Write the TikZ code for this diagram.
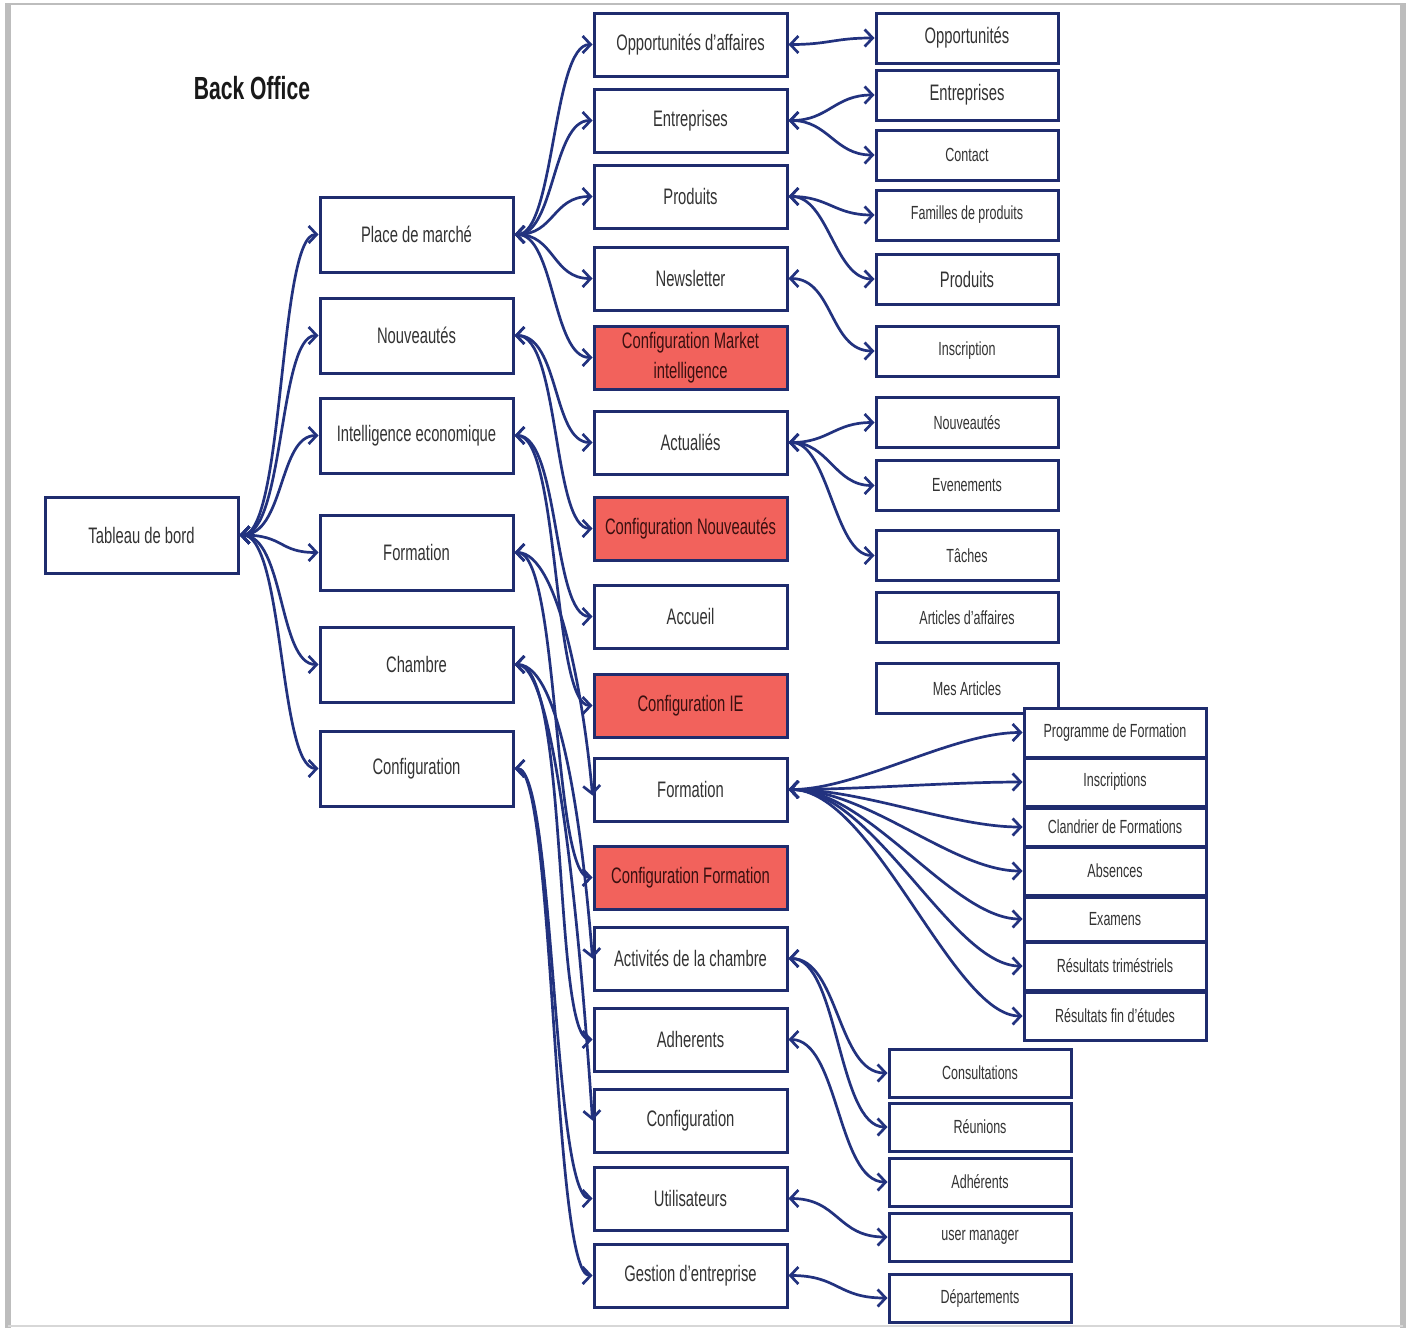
\documentclass[tikz,border=0pt]{standalone}
\usepackage{fontspec}
\setmainfont{Liberation Sans}[FakeStretch=0.66]
\usetikzlibrary{arrows.meta}
\definecolor{navy}{HTML}{1F2C6E}
\definecolor{connc}{HTML}{22327F}
\definecolor{redfill}{HTML}{F2625C}
\definecolor{txt}{HTML}{333333}
\definecolor{redtxt}{HTML}{3A1010}
\definecolor{framec}{HTML}{BDBDBD}
\begin{document}
\begin{tikzpicture}[x=0.5pt,y=-0.5pt,
  box/.style={draw=navy, line width=1.5pt, fill=white, inner sep=0pt, text=txt,
    font=\fontsize{11.2}{13}\selectfont, align=center},
  small/.style={font=\fontsize{9.5}{11}\selectfont},
  hot/.style={fill=redfill, text=redtxt},
  cA/.style={box, minimum width=96.5pt, minimum height=38pt},
  cB/.style={box, minimum width=96.5pt, minimum height=37.5pt},
  cC/.style={box, minimum width=96.5pt, minimum height=31.5pt},
  cD/.style={box, small, minimum width=91pt, minimum height=25pt},
  cE/.style={box, small, minimum width=91pt, minimum height=24pt},
  cF/.style={box, small, minimum width=91pt, minimum height=24pt},
  link/.style={draw=connc, line width=1.35pt,
    {Straight Barb[length=4pt,width=8.5pt]}-{Straight Barb[length=4pt,width=8.5pt]}}
]
\useasboundingbox (0,0) rectangle (1412,1328);
\fill[white] (0,0) rectangle (1412,1328);
% frame
\draw[framec, line width=1pt] (8,4) -- (1403,4);
\draw[framec, line width=3pt] (8,3) -- (8,1328);
\draw[framec, line width=3pt] (1403,3) -- (1403,1328);
\draw[framec!60, line width=1pt] (8,1326) -- (1403,1326);

\node[font=\bfseries\fontsize{16}{19}\selectfont, text=black!90] (title) at (252,88) {Back Office};

% column 1
\node[cA] (tab) at (141.5,535) {Tableau de bord};

% column 2
\node[cB] (pm) at (416.5,234.5) {Place de marché};
\node[cB] (nv) at (416.5,335.5) {Nouveautés};
\node[cB] (ie) at (416.5,435.5) {Intelligence economique};
\node[cB] (fo) at (416.5,552.5) {Formation};
\node[cB] (ch) at (416.5,664.5) {Chambre};
\node[cB] (cf) at (416.5,768.5) {Configuration};

% column 3
\node[cC] (opa) at (690.5,44.5) {Opportunités d'affaires};
\node[cC] (ent) at (690.5,120.5) {Entreprises};
\node[cC] (pro) at (690.5,196.5) {Produits};
\node[cC] (nws) at (690.5,278.5) {Newsletter};
\node[cC,hot,font=\fontsize{11.2}{16}\selectfont] (cmi) at (690.5,357.5) {Configuration Market\\[-1pt]intelligence};
\node[cC] (act) at (690.5,442.5) {Actualiés};
\node[cC,hot] (cnv) at (690.5,528.5) {Configuration Nouveautés};
\node[cC] (acc) at (690.5,616.5) {Accueil};
\node[cC,hot] (cie) at (690.5,705.5) {Configuration IE};
\node[cC] (for) at (690.5,789.5) {Formation};
\node[cC,hot] (cfo) at (690.5,877.5) {Configuration Formation};
\node[cC] (acv) at (690.5,958.5) {Activités de la chambre};
\node[cC] (adh) at (690.5,1039.5) {Adherents};
\node[cC] (cnf) at (690.5,1120.5) {Configuration};
\node[cC] (uti) at (690.5,1198.5) {Utilisateurs};
\node[cC] (ges) at (690.5,1275.5) {Gestion d'entreprise};

% column 4
\node[cD,font=\fontsize{11.2}{13}\selectfont] (d1) at (967,38) {Opportunités};
\node[cD,font=\fontsize{11.2}{13}\selectfont] (d2) at (967,95) {Entreprises};
\node[cD] (d3) at (967,155) {Contact};
\node[cD] (d4) at (967,215) {Familles de produits};
\node[cD,font=\fontsize{11.2}{13}\selectfont] (d5) at (967,279) {Produits};
\node[cD] (d6) at (967,351) {Inscription};
\node[cD] (d7) at (967,422.5) {Nouveautés};
\node[cD] (d8) at (967,485.5) {Evenements};
\node[cD] (d9) at (967,555.5) {Tâches};
\node[cD] (d10) at (967,617.5) {Articles d'affaires};
\node[cD] (d11) at (967,688.5) {Mes Articles};

% column 5
\node[cE, minimum height=24.5pt] (e1) at (1115,732.5) {Programme de Formation};
\node[cE] (e2) at (1115,782) {Inscriptions};
\node[cE, minimum height=19pt] (e3) at (1115,827) {Clandrier de Formations};
\node[cE] (e4) at (1115,871) {Absences};
\node[cE, minimum height=22pt] (e5) at (1115,919) {Examens};
\node[cE] (e6) at (1115,966) {Résultats triméstriels};
\node[cE] (e7) at (1115,1016) {Résultats fin d'études};

% column 6
\node[cF] (f1) at (980,1073) {Consultations};
\node[cF] (f2) at (980,1127) {Réunions};
\node[cF] (f3) at (980,1182) {Adhérents};
\node[cF] (f4) at (980,1237) {user manager};
\node[cF] (f5) at (980,1298) {Départements};

% Tableau -> column 2
\foreach \t in {pm,nv,ie,fo,ch,cf}
  \draw[link] (tab.east) .. controls +(45,0) and +(-40,0) .. (\t.west);

% Place de marche
\foreach \t in {opa,ent,pro,nws,cmi}
  \draw[link] (pm.east) .. controls +(40,0) and +(-40,0) .. (\t.west);

% Nouveautes
\draw[link] (nv.east) .. controls +(45,0) and +(-40,0) .. (act.west);
\draw[link] (nv.east) .. controls +(45,0) and +(-40,0) .. (cnv.west);
% Intelligence economique
\draw[link] (ie.east) .. controls +(45,0) and +(-40,0) .. (acc.west);
\draw[link] (ie.east) .. controls +(45,0) and +(-40,0) .. (cie.west);
% Formation
\draw[link] (fo.east) .. controls +(45,0) and +(-8,-90) .. ([yshift=-3pt]for.west);
\draw[link] (fo.east) .. controls +(45,0) and +(-40,0) .. (cfo.west);
% Chambre
\draw[link] (ch.east) .. controls +(50,0) and +(-8,-100) .. (acv.west);
\draw[link] (ch.east) .. controls +(55,0) and +(-40,0) .. (adh.west);
\draw[link] (ch.east) .. controls +(45,0) and +(-8,-120) .. (cnf.west);
% Configuration
\draw[link] (cf.east) .. controls +(40,0) and +(-40,0) .. (uti.west);
\draw[link] (cf.east) .. controls +(40,0) and +(-40,0) .. (ges.west);

% column 3 -> column 4
\draw[link] (opa.east) .. controls +(40,0) and +(-40,0) .. (d1.west);
\draw[link] (ent.east) .. controls +(40,0) and +(-40,0) .. (d2.west);
\draw[link] (ent.east) .. controls +(40,0) and +(-40,0) .. (d3.west);
\draw[link] (pro.east) .. controls +(40,0) and +(-40,0) .. (d4.west);
\draw[link] (pro.east) .. controls +(40,0) and +(-40,0) .. (d5.west);
\draw[link] (nws.east) .. controls +(45,0) and +(-45,0) .. (d6.west);
\draw[link] (act.east) .. controls +(40,0) and +(-40,0) .. (d7.west);
\draw[link] (act.east) .. controls +(40,0) and +(-40,0) .. (d8.west);
\draw[link] (act.east) .. controls +(40,0) and +(-40,0) .. (d9.west);

% Formation -> column 5
\draw[link] (for.east) .. controls +(70,0) and +(-70,0) .. (e1.west);
\draw[link] (for.east) .. controls +(70,0) and +(-70,0) .. (e2.west);
\draw[link] (for.east) .. controls +(75,0) and +(-70,0) .. (e3.west);
\draw[link] (for.east) .. controls +(80,0) and +(-70,0) .. (e4.west);
\draw[link] (for.east) .. controls +(80,0) and +(-70,0) .. (e5.west);
\draw[link] (for.east) .. controls +(85,0) and +(-70,0) .. (e6.west);
\draw[link] (for.east) .. controls +(85,0) and +(-70,0) .. (e7.west);

% column 3 -> column 6
\draw[link] (acv.east) .. controls +(50,0) and +(-50,0) .. (f1.west);
\draw[link] (acv.east) .. controls +(50,0) and +(-50,0) .. (f2.west);
\draw[link] (adh.east) .. controls +(50,0) and +(-50,0) .. (f3.west);
\draw[link] (uti.east) .. controls +(50,0) and +(-50,0) .. (f4.west);
\draw[link] (ges.east) .. controls +(50,0) and +(-50,0) .. (f5.west);
\end{tikzpicture}
\end{document}
